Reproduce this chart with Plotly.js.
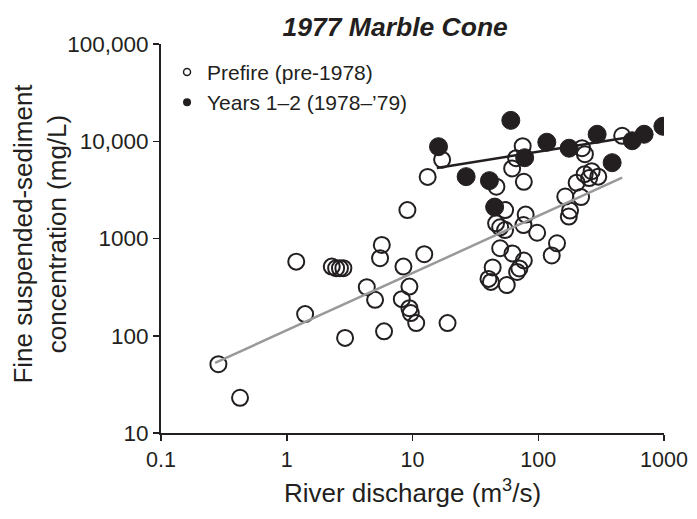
<!DOCTYPE html>
<html>
<head>
<meta charset="utf-8">
<script src="https://cdn.plot.ly/plotly-3.0.1.min.js"></script>
<style>html,body{margin:0;padding:0;background:#fff;}#chart{width:697px;height:519px;}</style>
</head>
<body>
<div id="chart"></div>
<script>
// Prefire (pre-1978): discharge (m3/s) and concentration (mg/L)
var prefireQ = [0.286, 0.425, 1.19, 1.40, 2.28, 2.47, 2.65, 2.82, 2.91, 4.33, 5.04, 5.70, 5.52, 5.94,
  8.47, 9.45, 8.22, 9.45, 9.69, 10.7, 12.4, 19.0, 9.11, 17.2, 13.2, 75.2, 66.7, 62.0, 76.8, 46.5,
  54.5, 79.4, 46.2, 49.8, 54.5, 76.3, 98, 49.8, 62.4, 76.8, 43.4, 70.8, 67.9, 40.2, 42.0, 56.2,
  128, 141, 164, 219, 179, 175, 202, 234, 266, 300, 254, 223, 235, 465];
var prefireC = [51, 23, 578, 167, 514, 495, 495, 495, 95, 316, 234, 858, 627, 111,
  514, 320, 238, 192, 171, 135, 689, 135, 1960, 6460, 4300, 8890, 6690, 5250, 3830, 3410,
  1960, 1762, 1432, 1303, 1222, 1375, 1146, 794, 702, 594, 504, 492, 453, 384, 358, 332,
  669, 893, 2700, 2665, 1937, 1681, 3750, 4590, 4920, 4325, 4180, 8480, 7360, 11380];
// Years 1-2 (1978-'79)
var postQ = [16.1, 60.5, 26.7, 40.9, 45.0, 78.0, 117, 176, 294, 387, 559, 695, 980];
var postC = [8790, 16400, 4325, 3935, 2104, 6770, 9770, 8480, 11800, 6020, 10120, 11800, 14260];
// Fitted trend lines (end points)
var prefireFitQ = [0.269, 465];
var prefireFitC = [52.5, 4225];
var postFitQ = [15.6, 559];
var postFitC = [5320, 11120];
// Axis ticks
var xTickVals = [0.1, 1, 10, 100, 1000];
var xTickText = ['0.1', '1', '10', '100', '1000'];
var yTickVals = [10, 100, 1000, 10000, 100000];
var yTickText = ['10', '100', '1000', '10,000', '100,000'];
var legendNames = ['Prefire (pre-1978)', 'Years 1\u20132 (1978\u2013\u201979)'];
var yTitle = 'Fine suspended-sediment<br>concentration (mg/L)';

var ink = '#231f20';
var font = 'Liberation Sans, Arial, Helvetica, sans-serif';

var traces = [
  {x: prefireQ, y: prefireC, type: 'scatter', mode: 'markers', showlegend: false,
   marker: {symbol: 'circle-open', size: 16, color: ink, line: {width: 2, color: ink}}},
  {x: postQ, y: postC, type: 'scatter', mode: 'markers', showlegend: false,
   marker: {symbol: 'circle', size: 18, color: ink, line: {width: 1, color: ink}}},
  {x: prefireFitQ, y: prefireFitC, type: 'scatter', mode: 'lines', showlegend: false,
   line: {color: '#999999', width: 2.5}},
  {x: postFitQ, y: postFitC, type: 'scatter', mode: 'lines', showlegend: false,
   line: {color: ink, width: 2.5}},
  {x: [null], y: [null], type: 'scatter', mode: 'markers', name: legendNames[0],
   marker: {symbol: 'circle-open', size: 7, color: ink, line: {width: 1.5, color: ink}}},
  {x: [null], y: [null], type: 'scatter', mode: 'markers', name: legendNames[1],
   marker: {symbol: 'circle', size: 8, color: ink}}
];

var layout = {
  width: 697, height: 519,
  margin: {l: 161, r: 33, t: 44, b: 86, pad: 0},
  paper_bgcolor: '#ffffff', plot_bgcolor: '#ffffff',
  font: {family: font, color: ink, size: 21},
  title: {text: '<b><i>1977 Marble Cone</i></b>', x: 0.567, xanchor: 'center', y: 0.948, yanchor: 'middle',
          font: {family: font, size: 26.5, color: ink}},
  showlegend: true,
  legend: {x: 0.012, y: 0.98, xanchor: 'left', yanchor: 'top', bgcolor: 'rgba(0,0,0,0)',
           font: {family: font, size: 21, color: ink}, itemwidth: 30},
  xaxis: {type: 'log', range: [-1, 3], tickmode: 'array', tickvals: xTickVals, ticktext: xTickText,
          showline: true, linecolor: ink, linewidth: 2, ticks: 'outside', ticklen: 6, tickwidth: 1.5,
          tickcolor: ink, showgrid: false, zeroline: false, tickfont: {size: 21.5},
          title: {text: 'River discharge (m<sup>3</sup>/s)', font: {size: 26}, standoff: 13}},
  yaxis: {type: 'log', range: [1, 5], tickmode: 'array', tickvals: yTickVals, ticktext: yTickText,
          showline: true, linecolor: ink, linewidth: 2, ticks: 'outside', ticklen: 6, tickwidth: 1.5,
          tickcolor: ink, showgrid: false, zeroline: false, tickfont: {size: 22.5}},
  annotations: [
    {text: yTitle, textangle: -90, xref: 'paper', yref: 'paper', x: -0.241, y: 0.512,
     xanchor: 'center', yanchor: 'middle', showarrow: false, align: 'center',
     font: {family: font, size: 26, color: ink}}
  ]
};

Plotly.newPlot('chart', traces, layout, {displayModeBar: false, staticPlot: true});
</script>
</body>
</html>
